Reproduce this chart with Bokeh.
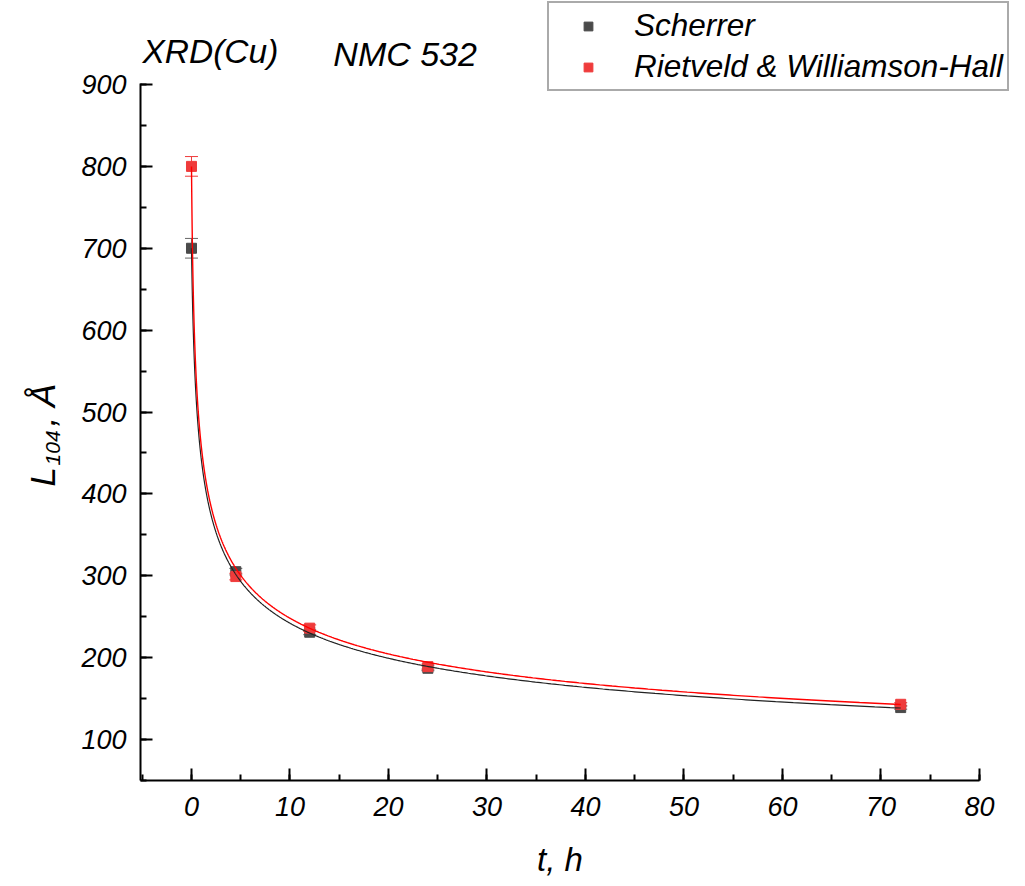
import numpy as np
from bokeh.plotting import figure
from bokeh.models import Range1d, SingleIntervalTicker, Label, Legend, LegendItem
from bokeh.embed import file_html
from bokeh.resources import INLINE

# ---- data ----
t_hours = [0, 4.5, 12, 24, 72]
scherrer = [700, 305, 231, 187, 139]
scherrer_err = [12, 4, 3, 3, 2]
rietveld = [800, 299, 236, 189, 143]
rietveld_err = [12, 4, 4, 3, 2]

# fitted curves  L = A * (t + t0) ** (-b)
scherrer_fit = {"A": 470.9, "t0": 0.25, "b": 0.286}
rietveld_fit = {"A": 477.1, "t0": 0.16, "b": 0.282}

x_ticks_step = 10
y_ticks_step = 100
x_axis_bounds = (-5.178, 80.05)
y_axis_bounds = (49.92, 901.0)

BLACK_PT = "#4a4a4a"
RED_PT = "#ef3b3b"
FONT = "Liberation Sans"

W, H = 1025, 886
p = figure(width=W, height=H, x_range=Range1d(-19.39, 84.67), y_range=Range1d(-79.54, 1002.6),
           output_backend="svg", toolbar_location=None,
           min_border_left=0, min_border_right=0, min_border_top=0, min_border_bottom=0)
p.outline_line_color = None
p.grid.visible = False

p.xaxis.ticker = SingleIntervalTicker(interval=x_ticks_step, num_minor_ticks=2)
p.yaxis.ticker = SingleIntervalTicker(interval=y_ticks_step, num_minor_ticks=2)
p.xaxis.fixed_location = y_axis_bounds[0]
p.yaxis.fixed_location = x_axis_bounds[0]
p.xaxis.bounds = x_axis_bounds
p.yaxis.bounds = y_axis_bounds
for ax in (p.xaxis[0], p.yaxis[0]):
    ax.axis_line_width = 2
    ax.axis_line_color = "black"
    ax.major_tick_in = 12
    ax.major_tick_out = 0
    ax.minor_tick_in = 6
    ax.minor_tick_out = 0
    ax.major_tick_line_width = 2
    ax.minor_tick_line_width = 2
    ax.major_tick_line_color = "black"
    ax.minor_tick_line_color = "black"
    ax.major_label_text_font = FONT
    ax.major_label_text_font_style = "italic"
    ax.major_label_text_font_size = "27px"
    ax.major_label_text_color = "black"
p.xaxis.major_label_standoff = 16
p.yaxis.major_label_standoff = 14
p.xaxis.axis_label = "t, h"
p.xaxis.axis_label_text_font = FONT
p.xaxis.axis_label_text_font_style = "italic"
p.xaxis.axis_label_text_font_size = "33px"
p.xaxis.axis_label_text_color = "black"
p.xaxis.axis_label_standoff = 22

# error bars (segments + dash caps)
for vals, errs, col in ((scherrer, scherrer_err, "#666666"), (rietveld, rietveld_err, "#ef3b3b")):
    upper = [v + e for v, e in zip(vals, errs)]
    lower = [v - e for v, e in zip(vals, errs)]
    p.segment(t_hours, lower, t_hours, upper, line_color=col, line_width=1)
    p.scatter(t_hours, upper, marker="dash", size=13, line_color=col, line_width=1)
    p.scatter(t_hours, lower, marker="dash", size=13, line_color=col, line_width=1)

# markers
r_s = p.scatter(t_hours, scherrer, marker="square", size=10, color=BLACK_PT)
r_r = p.scatter(t_hours, rietveld, marker="square", size=10, color=RED_PT)

# fit curves
tt = np.unique(np.concatenate([np.geomspace(1e-3, 72, 1500), [0.0]]))
ys = scherrer_fit["A"] * (tt + scherrer_fit["t0"]) ** (-scherrer_fit["b"])
yr = rietveld_fit["A"] * (tt + rietveld_fit["t0"]) ** (-rietveld_fit["b"])
p.line(tt, ys, line_color="#222222", line_width=1.2)
p.line(tt, yr, line_color="#ff0000", line_width=1.4)

# titles
p.add_layout(Label(x=-4.98, y=940, text="XRD(Cu)", text_font=FONT, text_font_style="italic",
                   text_font_size="33.5px", text_color="black", text_baseline="alphabetic"))
p.add_layout(Label(x=14.4, y=937, text="NMC 532", text_font=FONT, text_font_style="italic",
                   text_font_size="34px", text_color="black", text_baseline="alphabetic"))

# y-axis label built from pieces (L with subscript 104)
ang = np.pi / 2
p.add_layout(Label(x=-15.13, y=409.0, text="L", angle=ang, text_font=FONT, text_font_style="italic",
                   text_font_size="35px", text_color="black", text_baseline="alphabetic",
                   text_align="left"))
p.add_layout(Label(x=-14.01, y=434.7, text="104", angle=ang, text_font=FONT, text_font_style="italic",
                   text_font_size="21px", text_color="black", text_baseline="alphabetic",
                   text_align="left"))
p.add_layout(Label(x=-15.13, y=482.3, text=", Å", angle=ang, text_font=FONT, text_font_style="italic",
                   text_font_size="35px", text_color="black", text_baseline="alphabetic",
                   text_align="left"))

# legend
legend = Legend(items=[LegendItem(label="Scherrer", renderers=[r_s]),
                       LegendItem(label="Rietveld & Williamson-Hall", renderers=[r_r])],
                location=(547, 795), orientation="vertical",
                label_text_font=FONT, label_text_font_style="italic", label_text_font_size="31.5px",
                label_text_color="black", glyph_width=70, glyph_height=22, label_standoff=11,
                label_height=34, spacing=4, padding=4, margin=0,
                border_line_color="#555555", border_line_width=2, background_fill_color="white",
                background_fill_alpha=1.0)
p.add_layout(legend)

open("out.html", "w").write(file_html(p, INLINE))
